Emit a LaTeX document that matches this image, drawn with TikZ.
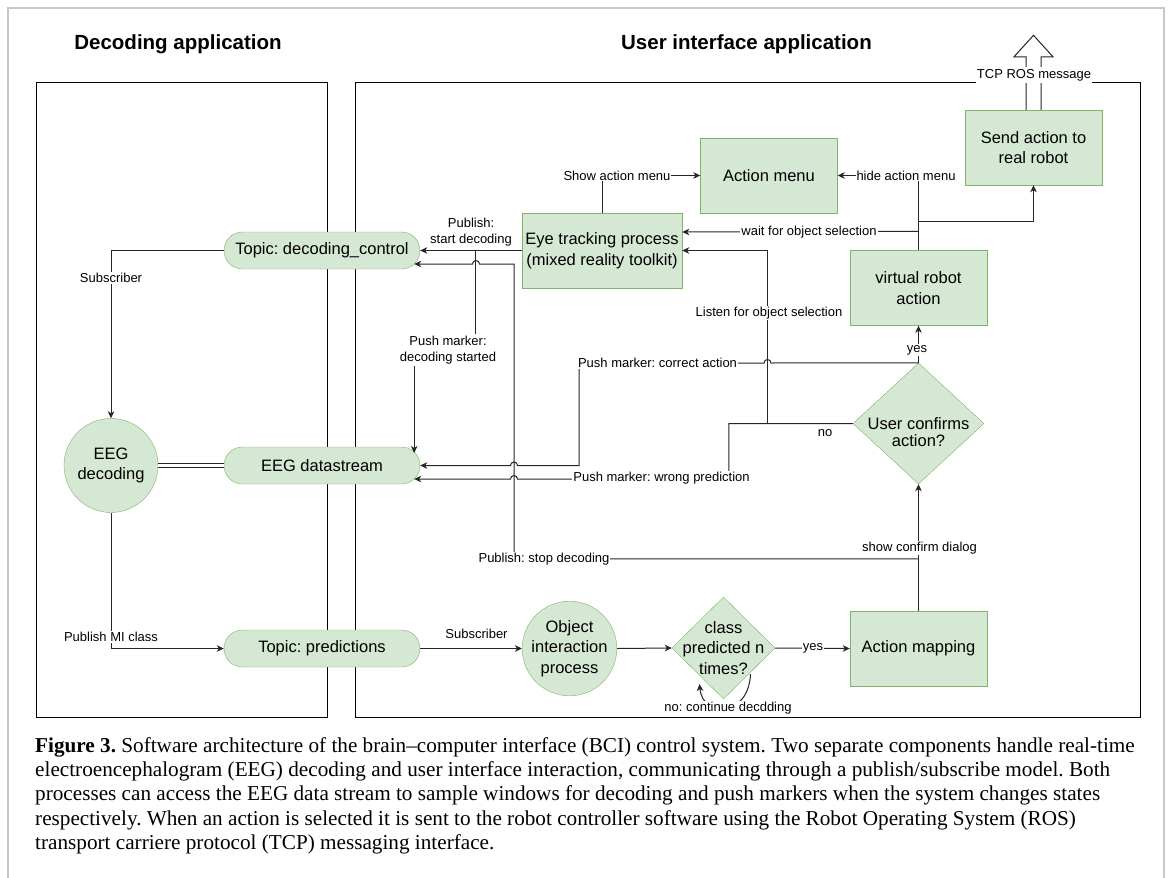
\documentclass[tikz,border=0pt]{standalone}
\usepackage{fontspec}
\setmainfont{Liberation Sans}
\newfontfamily\legendfont{Liberation Serif}
\usetikzlibrary{shapes.geometric,shapes.misc,arrows.meta,positioning,calc}
\definecolor{nodeFill}{RGB}{213,232,212}
\definecolor{nodeEdge}{RGB}{130,179,102}
\definecolor{frameGray}{RGB}{200,200,200}
\tikzset{
  topic/.style={rounded rectangle, draw=nodeEdge, fill=nodeFill, minimum width=196pt,
                minimum height=37pt, inner sep=0pt, font=\fontsize{16.5}{20.5}\selectfont},
  block/.style={rectangle, draw=nodeEdge, fill=nodeFill, minimum width=137pt,
                minimum height=75pt, align=center, font=\fontsize{16.5}{20.5}\selectfont},
  procnode/.style={circle, draw=nodeEdge, fill=nodeFill, minimum size=94pt, inner sep=0pt,
                   align=center, font=\fontsize{16.5}{20.5}\selectfont},
  decision/.style={diamond, draw=nodeEdge, fill=nodeFill, align=center,
                   font=\fontsize{16.5}{20.5}\selectfont},
  app/.style={rectangle, draw=black, line width=1pt, minimum height=635pt},
  heading/.style={font=\fontsize{20.5}{24}\selectfont\bfseries},
  lbl/.style={fill=white, inner sep=1pt, align=center, font=\fontsize{13}{16}\selectfont},
  flow/.style={-{Stealth[length=7pt,width=6.5pt,inset=2pt]}, line width=1pt, black!85},
  wire/.style={line width=1pt, black!85},
}
\begin{document}
\frenchspacing
\begin{tikzpicture}[x=1pt,y=-1pt]
  \useasboundingbox (0,0) rectangle (1171,878);
  \draw[frameGray, line width=1.5pt] (8,890) -- (8,8) -- (1164,8) -- (1164,890);

  \node[heading] (tdec) at (178,44) {Decoding application};
  \node[heading] (tui) at (746.5,44) {User interface application};
  \node[app, minimum width=291pt] (decapp) at (181.5,399.5) {};
  \node[app, minimum width=785pt] (uiapp) at (747.5,399.5) {};

  \node[topic] (ctrl) at (322,250.5) {Topic: decoding\_control};
  \node[topic] (ds) at (322,465.5) {EEG datastream};
  \node[topic] (pred) at (322,648.5) {Topic: predictions};
  \node[procnode] (eegdec) at (111,465.5) {EEG\\decoding};
  \node[procnode] (objint) at (569.5,648.5) {Object\\interaction\\process};
  \node[decision, minimum width=103pt, minimum height=102pt, inner sep=-9pt] (ntimes) at (723.5,648) {class\\predicted n\\times?};
  \node[block] (amap) at (918.5,648.5) {Action mapping};
  \node[decision, minimum width=131pt, minimum height=121pt, aspect=1.08, inner sep=-4pt] (confirm) at (918.5,423.5)
    {\raisebox{-9pt}[\height][\depth]{\shortstack{User confirms\\[2pt]action?}}};
  \node[block] (vrobot) at (918.5,288) {virtual robot\\action};
  \node[block] (sendrr) at (1033.5,147.5) {Send action to\\real robot};
  \node[block] (amenu) at (769,175.5) {Action menu};
  \node[block, minimum width=160pt, inner xsep=2pt] (eyet) at (602,250.5) {Eye tracking process\\(mixed reality toolkit)};

  \draw[flow] (ctrl.west) -| (eegdec.north);
  \draw[wire, double, double distance=2.5pt] (eegdec.east) -- (ds.west);
  \draw[flow] (eegdec.south) |- (pred.west);
  \draw[flow] (pred.east) -- (objint.west);
  \draw[flow] (objint.east) -- (ntimes.west);
  \draw[flow] (ntimes.east) -- (amap.west);
  \draw[flow] ($(ntimes.center)+(27,26)$) .. controls +(-2,44) and +(3,34) .. ($(ntimes.center)+(-24,36)$);
  \draw[flow] (amap.north) -- (confirm.south);
  \draw[flow] ($(amap.north)+(0,-52)$) -- (514,559) -- (514,264) -- (479.5,264)
    arc[start angle=0, end angle=180, radius=3.5pt] -- ($(ctrl.east)+(-6,13.5)$);
  \draw[flow] (eyet.west) -- (ctrl.east);
  \draw[flow] ($(eyet.west)+(-46,0)$) -- ++(0,100) -| ($(ds.east)+(-6,-12.5)$);
  \draw[flow] (eyet.north) |- (amenu.west);
  \draw[flow] (vrobot.north) |- (amenu.east);
  \draw[flow] ($(vrobot.north)+(0,-19)$) -- ($(eyet.east)+(0,-18.5)$);
  \draw[flow] ($(vrobot.north)+(0,-29)$) -| (sendrr.south);
  \draw[flow] (confirm.north) -- (vrobot.south);
  \draw[flow] (confirm.north) -- (771,363) arc[start angle=0, end angle=180, radius=3.5pt]
    -- (579,363) -- (579,465.5) -- (517.5,465.5) arc[start angle=0, end angle=180, radius=3.5pt] -- (ds.east);
  \draw[flow] (confirm.west) -- ++(-124,0) |- (517.5,479)
    arc[start angle=0, end angle=180, radius=3.5pt] -- ($(ds.east)+(-6,13.5)$);
  \draw[flow] (confirm.west) -- ++(-85.5,0) |- (eyet.east);
  \draw[wire, fill=white] ($(sendrr.north)+(-7.5,0)$) -- ++(0,-53) -- ++(-12,0)
    -- ($(sendrr.north)+(0,-74.5)$) -- ($(sendrr.north)+(19.5,-53)$) -- ++(-12,0)
    -- ($(sendrr.north)+(7.5,0)$);

  \node[lbl] (lsub1) at (111,278) {Subscriber};
  \node[lbl] (lmi) at (111,637) {Publish MI class};
  \node[lbl] (lsub2) at (476.5,634) {Subscriber};
  \node[lbl] (lyes1) at (813,648) {yes};
  \node[lbl] (lcont) at (728,708) {no: continue decdding};
  \node[lbl] (lshowc) at (919.5,548) {show confirm dialog};
  \node[lbl] (lstop) at (544,559) {Publish: stop decoding};
  \node[lbl] (lstart) at (471,232) {Publish:\\start decoding};
  \node[lbl, inner ysep=2pt] (lstarted) at (448,350) {Push marker:\\decoding started};
  \node[lbl] (lshow) at (617,175.5) {Show action menu};
  \node[lbl] (lhide) at (906,175.5) {hide action menu};
  \node[lbl] (lwait) at (809,232) {wait for object selection};
  \node[lbl] (llisten) at (769,313) {Listen for object selection};
  \node[lbl] (lyes2) at (917,350) {yes};
  \node[lbl] (lcorrect) at (657.5,363) {Push marker: correct action};
  \node[lbl] (lwrong) at (661.5,478) {Push marker: wrong prediction};
  \node[lbl, fill=none] (lno) at (825,433) {no};
  \node[lbl, inner ysep=2pt] (tcpmsg) at (1034,75) {TCP ROS message};

  \node[anchor=north west, align=left, inner sep=0pt, font=\legendfont\fontsize{21.2}{24.3}\selectfont] (caption) at (35,737)
    {\textbf{Figure 3.} Software architecture of the brain–computer interface (BCI) control system. Two separate components handle real-time\\
     electroencephalogram (EEG) decoding and user interface interaction, communicating through a publish/subscribe model. Both\\
     processes can access the EEG data stream to sample windows for decoding and push markers when the system changes states\\
     respectively. When an action is selected it is sent to the robot controller software using the Robot Operating System (ROS)\\
     transport carriere protocol (TCP) messaging interface.};
\end{tikzpicture}
\end{document}
